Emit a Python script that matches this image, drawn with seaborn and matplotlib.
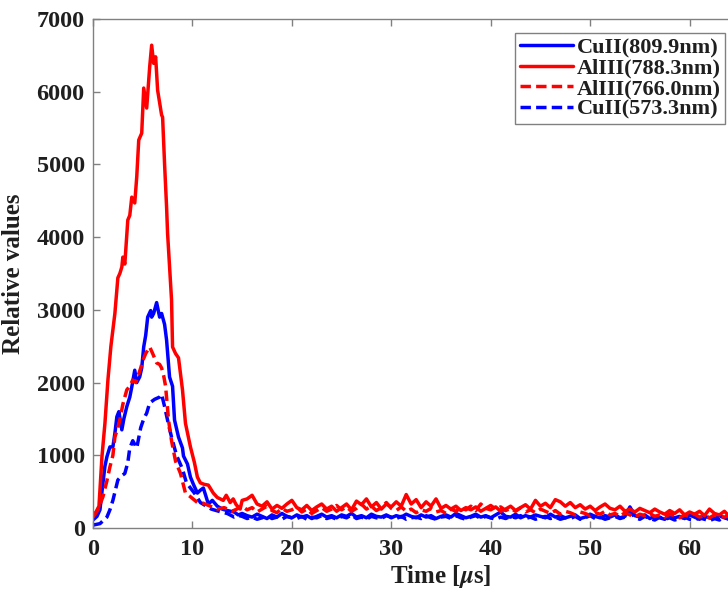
import numpy as np
import pandas as pd
import matplotlib
matplotlib.use("Agg")
import matplotlib.pyplot as plt
import seaborn as sns

# ---- data (time in us, relative intensity) ----
labels = ["CuII(809.9nm)", "AlIII(788.3nm)", "AlIII(766.0nm)", "CuII(573.3nm)"]

# peak part of every trace, own time points
cu809_t = [0, 0.4, 0.7, 1.0, 1.2, 1.4, 1.7, 2.0, 2.2, 2.4, 2.6, 2.9, 3.1, 3.4, 3.7,
           3.9, 4.2, 4.4, 4.7, 4.9, 5.1, 5.3, 5.5, 5.8, 5.9, 6.1, 6.4, 6.7, 6.9, 7.2,
           7.4, 7.7, 8.0, 8.2, 8.6, 9.0, 9.1, 9.5, 9.8, 10.1, 10.5, 10.8, 11.1, 11.6,
           12.0, 12.5, 13.0, 13.5, 14.2, 14.6]
cu809_v = [110, 160, 250, 620, 850, 980, 1115, 1115, 1300, 1530, 1600, 1350, 1500, 1670, 1800,
           1940, 2170, 2000, 2080, 2200, 2490, 2650, 2900, 2990, 2900, 2950, 3100, 2900, 2950, 2800,
           2585, 2075, 1950, 1485, 1250, 1100, 990, 880, 700, 600, 480, 520, 550, 330,
           380, 300, 260, 240, 220, 180]

al788_t = [0, 0.3, 0.6, 0.9, 1.2, 1.5, 1.8, 2.2, 2.5, 2.7, 2.9, 3.0, 3.2, 3.5, 3.7,
           3.9, 4.2, 4.4, 4.6, 4.9, 5.1, 5.4, 5.7, 5.9, 6.1, 6.3, 6.5, 6.9, 7.0, 7.2,
           7.4, 7.5, 7.9, 8.0, 8.3, 8.6, 9.0, 9.3, 9.8, 10.2, 10.5, 10.8, 11.2, 11.6,
           12.1, 12.5, 12.8, 13.1, 13.4, 13.8, 14.1, 14.4, 14.8]
al788_v = [180, 220, 300, 980, 1440, 2035, 2500, 2950, 3440, 3500, 3590, 3725, 3630, 4235, 4300,
           4550, 4470, 4830, 5335, 5430, 6050, 5775, 6340, 6640, 6390, 6480, 6020, 5680, 5650, 5000,
           4415, 4055, 3135, 2490, 2400, 2340, 1900, 1440, 1115, 900, 700, 620, 600, 590,
           480, 420, 400, 380, 450, 350, 400, 320, 260]

al766_t = [0, 0.5, 1.0, 1.4, 1.7, 2.0, 2.2, 2.5, 2.7, 3.0, 3.4, 3.7, 4.0, 4.3, 4.5,
           4.8, 5.0, 5.3, 5.7, 6.0, 6.4, 6.7, 6.9, 7.1, 7.3, 7.6, 7.9, 8.3, 8.8, 9.3,
           9.8, 10.5, 11.1, 11.8, 12.5, 13.2, 14.0, 14.6]
al766_v = [150, 250, 430, 650, 840, 1000, 1250, 1380, 1485, 1700, 1900, 1950, 2035, 2000, 2080,
           2200, 2300, 2400, 2490, 2400, 2270, 2250, 2200, 2100, 1950, 1480, 1200, 920, 750, 480,
           430, 350, 340, 300, 260, 280, 230, 270]

cu573_t = [0, 0.7, 1.4, 1.7, 2.0, 2.5, 2.9, 3.2, 3.5, 3.7, 4.0, 4.4, 4.8, 5.1, 5.4,
           5.7, 6.2, 6.7, 6.9, 7.2, 7.6, 7.9, 8.4, 9.0, 9.4, 10.2, 10.8, 11.4, 11.9, 12.4,
           12.9, 13.5, 14.2, 14.7]
cu573_v = [40, 60, 150, 250, 380, 660, 720, 750, 900, 1100, 1200, 1100, 1380, 1500, 1580,
           1720, 1770, 1800, 1840, 1670, 1420, 1250, 1000, 810, 620, 480, 350, 300, 260, 240,
           220, 200, 150, 170]

# tail part, one value every 0.5 us starting at 15 us
tail_start, tail_step = 15.0, 0.5
cu809_tail = [200, 170, 150, 190, 160, 130, 180, 150, 200, 160,
              140, 180, 150, 170, 130, 160, 190, 150, 170, 140,
              180, 160, 200, 150, 170, 140, 190, 160, 150, 180,
              140, 170, 150, 190, 160, 140, 180, 150, 170, 130,
              160, 180, 150, 200, 170, 140, 160, 190, 150, 170,
              140, 180, 220, 160, 150, 190, 140, 170, 150, 180,
              160, 140, 190, 150, 170, 140, 160, 180, 130, 150,
              190, 160, 140, 170, 150, 180, 140, 160, 290, 170,
              150, 180, 130, 160, 140, 120, 170, 140, 160, 130,
              180, 150, 120, 160, 140, 130, 170, 140, 120, 160,
              140, 150, 120, 160, 130, 150, 120, 140, 160, 130, 150]
al788_tail = [380, 400, 450, 330, 300, 360, 260, 310, 270, 330,
              380, 280, 250, 310, 240, 290, 330, 260, 300, 230,
              280, 330, 250, 370, 320, 400, 290, 350, 260, 330,
              290, 360, 300, 460, 330, 390, 280, 360, 300, 400,
              270, 310, 260, 300, 240, 280, 250, 290, 230, 270,
              250, 290, 230, 260, 300, 240, 280, 320, 260, 380,
              300, 340, 280, 390, 360, 300, 350, 280, 320, 260,
              300, 240, 290, 330, 270, 250, 300, 230, 260, 220,
              270, 240, 210, 260, 220, 190, 240, 200, 250, 180,
              220, 190, 230, 170, 260, 200, 180, 230, 160, 200,
              170, 210, 160, 190, 170, 200, 150, 190, 160, 180, 170]
al766_tail = [300, 250, 280, 220, 260, 300, 240, 210, 270, 230,
              250, 290, 220, 260, 200, 240, 280, 230, 260, 310,
              250, 290, 230, 270, 330, 260, 300, 240, 280, 350,
              270, 240, 290, 230, 260, 210, 250, 230, 270, 220,
              240, 200, 260, 230, 280, 250, 300, 240, 330, 270,
              310, 260, 290, 240, 270, 230, 280, 220, 250, 210,
              260, 230, 200, 240, 190, 230, 210, 180, 220, 200,
              170, 210, 190, 230, 180, 200, 160, 210, 180, 150,
              190, 170, 200, 160, 180, 150, 190, 170, 140, 180,
              160, 190, 150, 170, 140, 180, 160, 150, 170, 140,
              160, 170, 150, 180, 140, 160, 150, 170, 140, 160, 150]
cu573_tail = [160, 130, 150, 120, 140, 170, 130, 150, 120, 160,
              140, 130, 160, 120, 150, 140, 170, 130, 150, 120,
              160, 140, 180, 130, 150, 120, 160, 140, 130, 170,
              150, 130, 160, 120, 140, 150, 130, 170, 140, 120,
              150, 160, 130, 170, 140, 120, 150, 170, 130, 160,
              140, 120, 150, 130, 160, 140, 170, 130, 150, 120,
              140, 160, 130, 150, 120, 140, 130, 160, 120, 140,
              170, 130, 150, 120, 140, 160, 130, 150, 240, 140,
              120, 160, 130, 110, 150, 120, 140, 110, 130, 150,
              120, 110, 140, 120, 100, 130, 110, 150, 120, 100,
              130, 110, 140, 120, 100, 130, 110, 120, 100, 130, 110]

colors = ["#0000ff", "#ff0000", "#ff0000", "#0000ff"]
dashes = [None, None, (3, 1.5), (3, 1.5)]


def build(t, v, tail):
    tt = tail_start + tail_step * np.arange(len(tail))
    return pd.DataFrame({"t": np.concatenate([t, tt]), "v": np.concatenate([v, tail])})


series = [build(cu809_t, cu809_v, cu809_tail),
          build(al788_t, al788_v, al788_tail),
          build(al766_t, al766_v, al766_tail),
          build(cu573_t, cu573_v, cu573_tail)]

sns.set_style("ticks")
plt.rcParams["font.family"] = ["Liberation Serif", "DejaVu Serif"]
plt.rcParams["font.weight"] = "bold"
plt.rcParams["mathtext.fontset"] = "stix"

fig = plt.figure(figsize=(7.28, 5.94), dpi=100)
# axes runs past the right edge of the picture, as in the original
ax = fig.add_axes([93 / 728, 66 / 594, 696 / 728, 509 / 594])

handles = [None] * 4
for i in [3, 0, 2, 1]:
    df = series[i]
    sns.lineplot(data=df, x="t", y="v", ax=ax, color=colors[i], linewidth=2.5,
                 estimator=None, sort=False)
    line = ax.lines[-1]
    if dashes[i] is not None:
        line.set_dashes(dashes[i])
    line.set_label(labels[i])
    handles[i] = line

ax.set_xlim(0, 70)
ax.set_ylim(0, 7000)
ax.set_xticks([0, 10, 20, 30, 40, 50, 60])
ax.set_yticks(np.arange(0, 7001, 1000))
ax.tick_params(direction="in", top=True, right=True, length=5, width=1,
               colors="#808080", labelcolor="#1f1f1f", labelsize=17.5)
ax.tick_params(axis="x", pad=8)
ax.tick_params(axis="y", pad=6)
for lab in ax.get_xticklabels() + ax.get_yticklabels():
    lab.set_fontweight("bold")
for s in ax.spines.values():
    s.set_color("#808080")
    s.set_linewidth(1)

ax.set_xlabel(r"Time [$\mu$s]", fontsize=18, fontweight="bold", color="#1f1f1f", labelpad=2)
ax.set_ylabel("Relative values", fontsize=18, fontweight="bold", color="#1f1f1f", labelpad=8)

leg = ax.legend(handles=handles, loc="upper right", bbox_to_anchor=(725 / 728, 1 - 33 / 594),
                bbox_transform=fig.transFigure, borderaxespad=0, fancybox=False,
                framealpha=1, edgecolor="#808080", handlelength=2.4, handletextpad=0.15,
                labelspacing=0.0, borderpad=0.2,
                prop={"family": "Liberation Serif", "weight": "bold", "size": 16})
leg.get_frame().set_linewidth(1)
for txt in leg.get_texts():
    txt.set_color("#1f1f1f")

fig.savefig("out.png", dpi=100)
